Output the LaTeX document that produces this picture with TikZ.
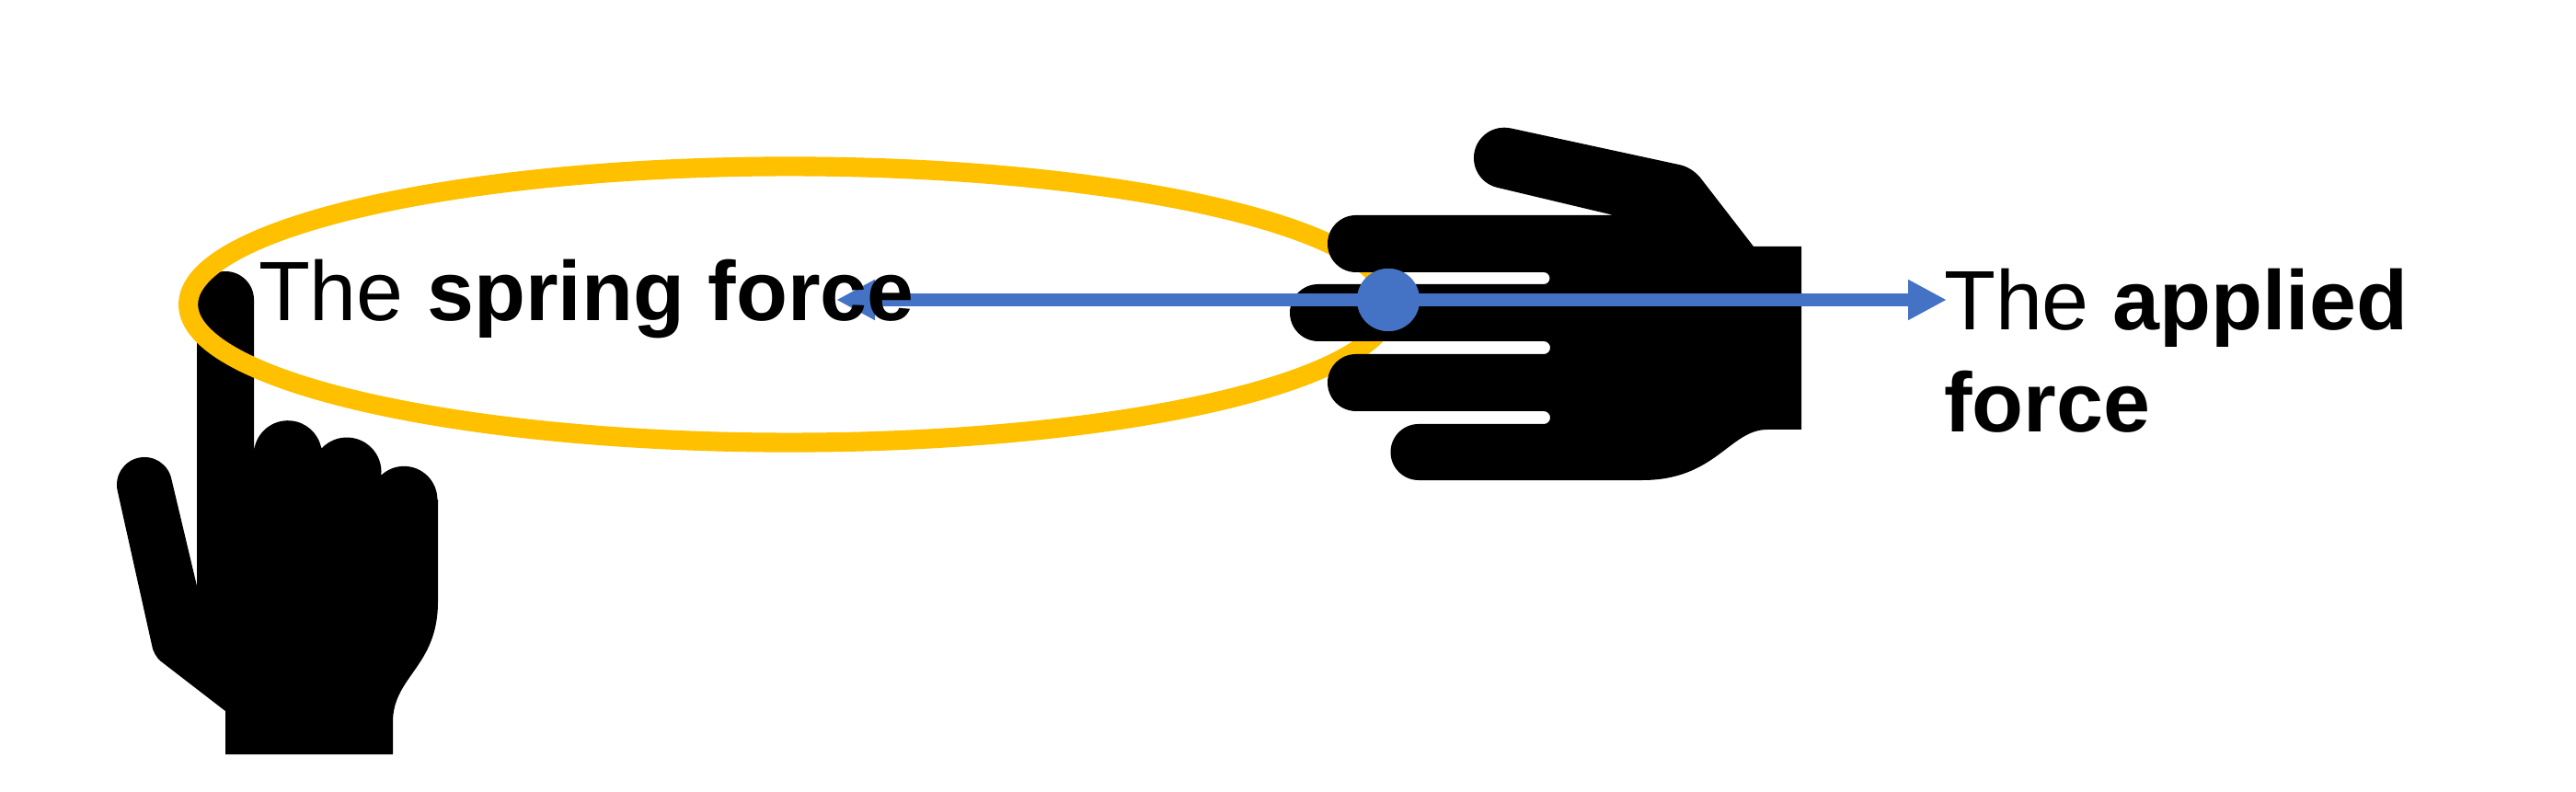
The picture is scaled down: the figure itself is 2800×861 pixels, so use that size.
\documentclass[tikz,border=0pt]{standalone}
\usepackage{fontspec}
\setmainfont{Liberation Sans}
\usetikzlibrary{arrows.meta}
\definecolor{ringgold}{HTML}{FFC000}
\definecolor{forceblue}{HTML}{4472C4}
\tikzset{
  handshape/.style={fill=black,draw=none},
  ring/.style={draw=ringgold,line width=6pt},
  forceline/.style={draw=forceblue,line width=4.1pt,
    -{Triangle[length=11.95pt,width=11.7pt,fill=forceblue]}},
  dotnode/.style={circle,fill=forceblue,draw=none,minimum size=0.68cm,inner sep=0pt},
  lbl/.style={inner sep=0pt,outer sep=0pt,text=black,
    font=\fontsize{26.05}{31.3}\selectfont}
}
\begin{document}
\begin{tikzpicture}[x=0.01cm,y=-0.01cm]
\useasboundingbox[fill=white] (0,0) rectangle (2800,861);
% left hand
\path[handshape] (214,637) -- (214,326) arc[start angle=180,end angle=0,radius=.31cm] -- (276,491)
  arc[start angle=175,end angle=12,radius=.37cm] -- (350,487)
  arc[start angle=136,end angle=-6,radius=.375cm] -- (414,517)
  arc[start angle=134,end angle=0,radius=.362cm] -- (476,543)
  -- (476,654)
  .. controls (476,725) and (427,735) .. (427,785)
  -- (427,820) -- (245,820) -- (245,773) -- (175,719)
  .. controls (170,715) and (166,708) .. (165,701)
  -- (127.7,533.5) arc[start angle=192.5,end angle=12.5,radius=.3cm]
  -- cycle;
% ring
\draw[ring] (858,331) ellipse [x radius=6.53cm,y radius=1.5cm];
% right hand
\path[handshape] (1642,139.4) -- (1825,179)
  .. controls (1835,181) and (1843,187) .. (1848,193)
  -- (1906,268) -- (1958,268) -- (1958,467) -- (1921,467)
  .. controls (1880,467) and (1865,522) .. (1785,522)
  -- (1542,522) arc[start angle=270,end angle=90,radius=.305cm]
  -- (1678,461) arc[start angle=-90,end angle=90,radius=.07cm]
  -- (1474,447) arc[start angle=270,end angle=90,radius=.31cm]
  -- (1678,385) arc[start angle=-90,end angle=90,radius=.07cm]
  -- (1433,371) arc[start angle=270,end angle=90,radius=.31cm]
  -- (1678,309) arc[start angle=-90,end angle=90,radius=.065cm]
  -- (1474,296) arc[start angle=270,end angle=90,radius=.31cm]
  -- (1754,234) -- (1628,204)
  arc[start angle=257.8,end angle=77.8,radius=.33cm]
  -- cycle;
% forces
\node[dotnode] (dot) at (1509,326) {};
\coordinate (lefttip) at (909,326);
\coordinate (righttip) at (2116,326);
\draw[forceline] (dot.center) -- (lefttip);
\draw[forceline] (dot.center) -- (righttip);
\node[dotnode] (dottop) at (dot.center) {};
% labels
\node[lbl,anchor=base west] (spring) at (281,349) {The \textbf{spring force}};
\node[lbl,anchor=base west] (applied) at (2113,359) {The \textbf{applied}};
\node[lbl,anchor=base west] (appliedb) at (2113,469) {\textbf{force}};
\end{tikzpicture}
\end{document}
